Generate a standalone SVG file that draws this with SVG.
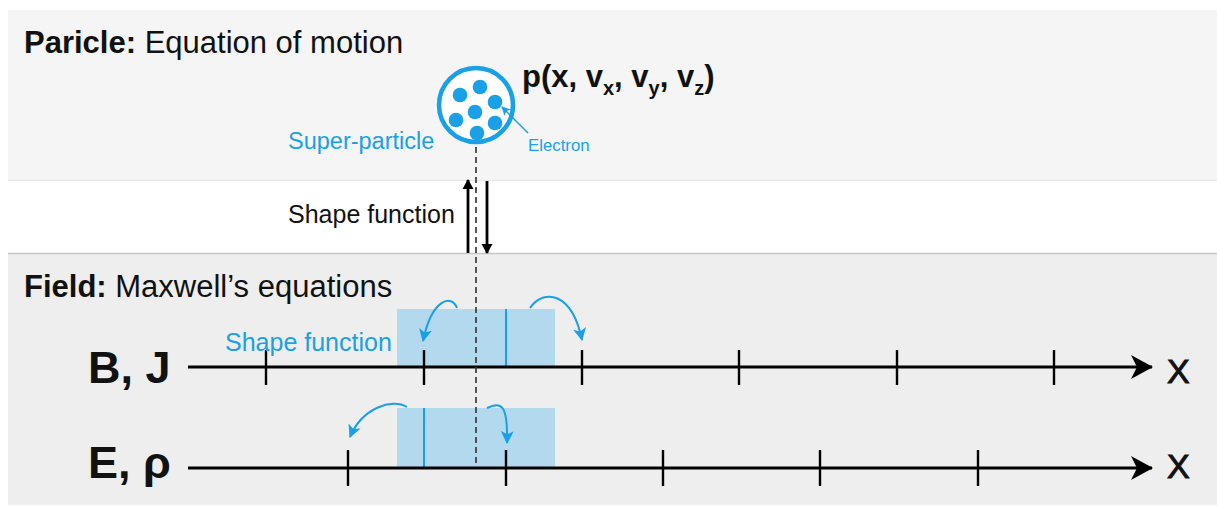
<svg xmlns="http://www.w3.org/2000/svg" width="1217" height="506" viewBox="0 0 1217 506">
  <style>
    text { font-family: "Liberation Sans", Arial, sans-serif; }
    .title { font-size: 31px; fill: #111; }
    .b { font-weight: bold; }
    .blue { fill: #1aa0e6; }
    .axis { stroke: #000; stroke-width: 2.8; fill: none; }
    .tick { stroke: #000; stroke-width: 2.4; }
    .cell { fill: #b3d9ee; }
    .mid { stroke: #1aa0e6; stroke-width: 2; }
    .hop { stroke: #1aa0e6; stroke-width: 2; fill: none; marker-end: url(#blueHead); }
    .big { font-size: 45px; font-weight: bold; fill: #111; }
    .xlab { font-size: 34px; fill: #111; stroke: #111; stroke-width: 1; }
  </style>
  <defs>
    <marker id="axisHead" viewBox="0 0 22 24" refX="21" refY="12" markerWidth="22" markerHeight="24" markerUnits="userSpaceOnUse" orient="auto">
      <path d="M0,0 L22,12 L0,24 L6,12 Z" fill="#000"/>
    </marker>
    <marker id="blackHead" viewBox="0 0 10 13" refX="9" refY="6.5" markerWidth="10" markerHeight="13" markerUnits="userSpaceOnUse" orient="auto">
      <path d="M0,1 L10,6.5 L0,12 Z" fill="#000"/>
    </marker>
    <marker id="blueHead" viewBox="0 0 12 12" refX="11" refY="6" markerWidth="13" markerHeight="13" markerUnits="userSpaceOnUse" orient="auto">
      <path d="M0,0 L12,6 L0,12 L3,6 Z" fill="#1aa0e6"/>
    </marker>
    <marker id="smallHead" viewBox="0 0 10 10" refX="9" refY="5" markerWidth="9" markerHeight="9" markerUnits="userSpaceOnUse" orient="auto">
      <path d="M0,0 L10,5 L0,10 L2.5,5 Z" fill="#1aa0e6"/>
    </marker>
  </defs>

  <!-- background bands -->
  <rect width="1217" height="506" fill="#ffffff"/>
  <g id="particle-panel">
    <rect x="8" y="10" width="1209" height="170" fill="#f4f5f4"/>
    <line x1="8" y1="180.5" x2="1217" y2="180.5" stroke="#e6e8e6" stroke-width="1"/>
    <text class="title" x="24" y="53"><tspan class="b">Paricle:</tspan> Equation of motion</text>
  </g>
  <g id="field-panel">
    <rect x="8" y="253" width="1209" height="252" fill="#eeeeee"/>
    <line x1="8" y1="253.5" x2="1217" y2="253.5" stroke="#c6c6c6" stroke-width="1.6"/>
    <text class="title" x="24" y="297"><tspan class="b">Field:</tspan> Maxwell’s equations</text>
  </g>

  <!-- super-particle carrying electrons -->
  <g id="super-particle">
    <circle cx="476" cy="105" r="37" fill="#ffffff" stroke="#1aa0e6" stroke-width="4.5"/>
    <g fill="#1aa0e6">
      <circle cx="460" cy="95" r="7.3"/>
      <circle cx="480" cy="87" r="7.3"/>
      <circle cx="495" cy="102" r="7.3"/>
      <circle cx="475" cy="112" r="7.3"/>
      <circle cx="456" cy="120" r="7.3"/>
      <circle cx="495" cy="123" r="7.3"/>
      <circle cx="477" cy="133" r="7.3"/>
    </g>
    <text class="blue" x="288" y="149" font-size="23.5">Super-particle</text>
    <text class="blue" x="528" y="151" font-size="16.8">Electron</text>
    <text x="522" y="87" font-size="31" font-weight="bold" fill="#111">p(x, v<tspan font-size="20" dy="8">x</tspan><tspan dy="-8">, v</tspan><tspan font-size="20" dy="8">y</tspan><tspan dy="-8">, v</tspan><tspan font-size="20" dy="8">z</tspan><tspan dy="-8">)</tspan></text>
  </g>

  <g id="shape-label">
    <text x="288" y="223" font-size="25" fill="#111">Shape function</text>
  </g>

  <!-- B, J grid -->
  <g id="axis-BJ">
    <rect class="cell" x="397" y="309" width="158" height="58"/>
    <line class="mid" x1="506" y1="309" x2="506" y2="367"/>
    <line class="axis" x1="188" y1="367" x2="1152" y2="367" marker-end="url(#axisHead)"/>
    <g class="tick">
      <line x1="266" y1="350" x2="266" y2="385"/>
      <line x1="424" y1="350" x2="424" y2="385"/>
      <line x1="582" y1="350" x2="582" y2="385"/>
      <line x1="739" y1="350" x2="739" y2="385"/>
      <line x1="897" y1="350" x2="897" y2="385"/>
      <line x1="1054" y1="350" x2="1054" y2="385"/>
    </g>
    <text class="big" x="88" y="383">B, J</text>
    <text class="xlab" x="1167" y="383">X</text>
    <text class="blue" x="225" y="351" font-size="25">Shape function</text>
  </g>

  <!-- E, rho grid -->
  <g id="axis-Erho">
    <rect class="cell" x="397" y="408" width="158" height="60"/>
    <line class="mid" x1="424" y1="408" x2="424" y2="468"/>
    <line class="axis" x1="188" y1="468" x2="1152" y2="468" marker-end="url(#axisHead)"/>
    <g class="tick">
      <line x1="348" y1="450" x2="348" y2="486"/>
      <line x1="506" y1="450" x2="506" y2="486"/>
      <line x1="663" y1="450" x2="663" y2="486"/>
      <line x1="820" y1="450" x2="820" y2="486"/>
      <line x1="978" y1="450" x2="978" y2="486"/>
    </g>
    <text class="big" x="88" y="478">E, ρ</text>
    <text class="xlab" x="1167" y="478">X</text>
  </g>

  <!-- connectors -->
  <g id="connectors">
    <line x1="476" y1="147" x2="476" y2="466" stroke="#3a3a3a" stroke-width="1.7" stroke-dasharray="6,4"/>
    <line x1="468" y1="253" x2="468" y2="180" stroke="#000" stroke-width="2.8" marker-end="url(#blackHead)"/>
    <line x1="487" y1="181" x2="487" y2="253" stroke="#000" stroke-width="2.8" marker-end="url(#blackHead)"/>
    <line x1="528" y1="133" x2="502" y2="107" stroke="#1aa0e6" stroke-width="1.5" marker-end="url(#smallHead)"/>
    <path class="hop" d="M457,308 C452,294 432,298 423,341"/>
    <path class="hop" d="M530,308 C544,288 572,292 582,340"/>
    <path class="hop" d="M407,407 C392,398 362,408 350,437"/>
    <path class="hop" d="M487,408 C501,401 508,404 507,443"/>
  </g>
</svg>
